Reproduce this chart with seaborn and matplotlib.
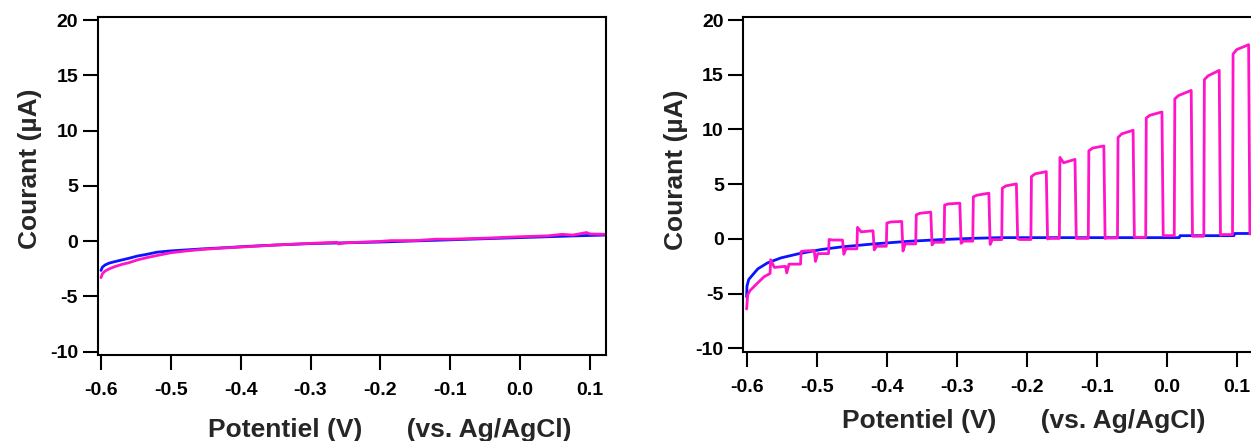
import matplotlib
matplotlib.use("Agg")
import matplotlib.pyplot as plt
import seaborn as sns

# ---- data ----
xticks = [-0.6, -0.5, -0.4, -0.3, -0.2, -0.1, 0.0, 0.1]
xtick_labels = ["-0.6", "-0.5", "-0.4", "-0.3", "-0.2", "-0.1", "0.0", "0.1"]
yticks = [-10, -5, 0, 5, 10, 15, 20]

# left panel: dark (blue) and illuminated (magenta) scans
v_left = [-0.600, -0.598, -0.594, -0.588, -0.580, -0.570, -0.560, -0.548, -0.535,
          -0.520, -0.500, -0.480, -0.455, -0.425, -0.390, -0.350, -0.300, -0.250,
          -0.200, -0.150, -0.100, -0.050, 0.000, 0.040, 0.080, 0.122]
blue_left = [-2.65, -2.35, -2.15, -1.98, -1.85, -1.70, -1.55, -1.35, -1.20,
             -1.00, -0.88, -0.80, -0.70, -0.60, -0.47, -0.35, -0.22, -0.15,
             -0.08, 0.02, 0.12, 0.22, 0.32, 0.40, 0.48, 0.55]
v_mag_left = [-0.600, -0.598, -0.594, -0.588, -0.580, -0.570, -0.560, -0.548, -0.535,
              -0.520, -0.500, -0.480, -0.455, -0.425, -0.390, -0.350, -0.300, -0.262,
              -0.260, -0.250, -0.200, -0.185, -0.150, -0.120, -0.100, -0.050, 0.000,
              0.040, 0.060, 0.075, 0.080, 0.095, 0.100, 0.122]
mag_left = [-3.30, -2.95, -2.70, -2.50, -2.30, -2.10, -1.95, -1.70, -1.50,
            -1.30, -1.05, -0.90, -0.75, -0.62, -0.50, -0.35, -0.20, -0.10,
            -0.25, -0.15, -0.02, 0.05, 0.05, 0.18, 0.18, 0.27, 0.40,
            0.48, 0.62, 0.55, 0.60, 0.78, 0.65, 0.62]

# right panel: dark scan (blue)
v_blue_right = [-0.600, -0.5995, -0.597, -0.591, -0.584, -0.570, -0.551, -0.525, -0.494,
                -0.465, -0.418, -0.370, -0.323, -0.275, -0.2375, -0.200, 0.018, 0.019,
                0.096, 0.097, 0.123]
blue_right = [-5.3, -4.3, -3.7, -3.25, -2.73, -2.18, -1.73, -1.34, -0.97,
              -0.73, -0.45, -0.22, -0.06, 0.06, 0.12, 0.12, 0.12, 0.30,
              0.30, 0.50, 0.50]

# right panel: chopped-light scan (magenta)
pre_v = [-0.600, -0.5985, -0.595, -0.591, -0.584, -0.575, -0.5665]
pre_i = [-6.4, -5.1, -4.7, -4.45, -4.0, -3.45, -3.15]
on_v = [-0.5665, -0.523, -0.483, -0.4425, -0.4005, -0.3585, -0.318, -0.277, -0.2356,
        -0.194, -0.1533, -0.112, -0.0703, -0.030, 0.0108, 0.053, 0.094]
off_v = [-0.5445, -0.5035, -0.463, -0.4195, -0.3785, -0.337, -0.2955, -0.254, -0.2147,
         -0.172, -0.131, -0.0898, -0.048, -0.0068, 0.035, 0.075, 0.117]
on_start = [-1.9, -1.15, -0.05, 1.06, 1.45, 2.2, 3.1, 3.85, 4.64,
            5.7, 7.45, 8.05, 9.27, 11.05, 12.8, 14.55, 16.9]
on_mid = [-2.6, -1.1, -0.1, 0.65, 1.55, 2.35, 3.2, 4.0, 4.85,
          5.95, 6.96, 8.3, 9.6, 11.3, 13.1, 14.9, 17.3]
on_end = [-2.5, -1.05, -0.1, 0.75, 1.6, 2.45, 3.27, 4.18, 5.03,
          6.15, 7.27, 8.5, 9.93, 11.6, 13.57, 15.4, 17.75]
off_dip = [-3.1, -2.05, -1.4, -1.0, -1.1, -0.55, -0.4, -0.5, 0.0,
           0.0, 0.05, 0.05, 0.15, 0.3, 0.25, 0.35, 0.45]
off_end = [-2.3, -1.34, -0.9, -0.67, -0.45, -0.3, -0.2, -0.06, -0.05,
           0.05, 0.05, 0.09, 0.15, 0.3, 0.25, 0.4, 0.5]

BLUE = "#0a14ff"
MAGENTA = "#ff14c8"

sns.set_theme(style="ticks")
plt.rcParams["font.family"] = ["Liberation Sans", "DejaVu Sans"]
plt.rcParams["font.weight"] = "bold"
plt.rcParams["axes.unicode_minus"] = False

# chopped trace: vertices from the edge/level reads
mv, mi = list(pre_v), list(pre_i)
for k in range(len(on_v)):
    nxt = on_v[k + 1] if k + 1 < len(on_v) else 0.123
    mv += [on_v[k] + 0.0008, on_v[k] + 0.006, off_v[k],
           off_v[k] + 0.0018, off_v[k] + 0.005, nxt]
    mi += [on_start[k], on_mid[k], on_end[k],
           off_dip[k], off_end[k], off_end[k]]

fig = plt.figure(figsize=(12.51, 4.41), dpi=100)
ax1 = fig.add_axes([0.0781, 0.195, 0.4063, 0.767])
ax2 = fig.add_axes([0.5942, 0.2025, 0.4072, 0.7595])

sns.lineplot(x=v_left, y=blue_left, ax=ax1, color=BLUE, lw=2.0,
             sort=False, estimator=None)
sns.lineplot(x=v_mag_left, y=mag_left, ax=ax1, color=MAGENTA, lw=2.0,
             sort=False, estimator=None)
sns.lineplot(x=v_blue_right, y=blue_right, ax=ax2, color=BLUE, lw=2.0,
             sort=False, estimator=None)
sns.lineplot(x=mv, y=mi, ax=ax2, color=MAGENTA, lw=2.0,
             sort=False, estimator=None)

for ax in (ax1, ax2):
    ax.set_xlim(-0.6047, 0.1229)
    ax.set_ylim(-10.3, 20.3)
    ax.set_xticks(xticks)
    ax.set_xticklabels(xtick_labels)
    ax.set_yticks(yticks)
    for s in ax.spines.values():
        s.set_linewidth(1.5)
        s.set_color("black")
    ax.tick_params(axis="both", direction="out", length=10.5, width=1.5,
                   colors="black", labelsize=14)
    ax.tick_params(axis="x", pad=9)
    ax.tick_params(axis="y", pad=3.6)
    for lab in ax.get_xticklabels() + ax.get_yticklabels():
        lab.set_fontweight("bold")
    ax.set_ylabel("Courant (µA)", fontsize=19, fontweight="bold")
    ax.set_xlabel("Potentiel (V)      (vs. Ag/AgCl)", fontsize=19, fontweight="bold")

ax1.yaxis.set_label_coords(-0.11, 0.55)
ax1.xaxis.set_label_coords(0.575, -0.185)
ax2.yaxis.set_label_coords(-0.108, 0.542)
ax2.xaxis.set_label_coords(0.551, -0.17)

fig.savefig("out.png", dpi=100, facecolor="white")
